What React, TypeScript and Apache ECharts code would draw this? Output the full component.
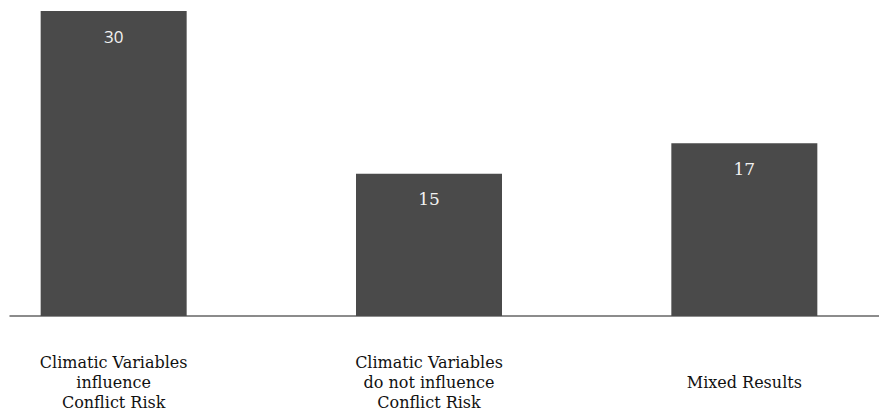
import React, { useEffect, useRef } from "react";
import * as echarts from "echarts";

const categories = [
  "Climatic Variables\ninfluence\nConflict Risk",
  "Climatic Variables\ndo not influence\nConflict Risk",
  "Mixed Results",
];
// bar heights as drawn in the picture
const barValues = [30, 14, 17];
// numbers printed on the bars
const barLabels = ["30", "15", "17"];
const labelFonts = ["Open Sans", "DejaVu Serif", "DejaVu Serif"];

export default function App() {
  const ref = useRef<HTMLDivElement>(null);
  useEffect(() => {
    if (!ref.current) return;
    const chart = echarts.init(ref.current, null, { renderer: "svg" });
    chart.setOption({
      animation: false,
      textStyle: { fontFamily: "DejaVu Serif" },
      grid: [
        { left: 0, right: 0, top: 11, bottom: 100 },
        { left: 54, right: 23, top: 11, bottom: 100 },
      ],
      xAxis: [
        {
          type: "category",
          gridIndex: 0,
          data: categories,
          axisLine: { show: false },
          axisTick: { show: false },
          axisLabel: {
            interval: 0,
            margin: 66,
            verticalAlign: "middle",
            fontFamily: "DejaVu Serif",
            fontSize: 16,
            lineHeight: 20,
            color: "#111",
          },
        },
        {
          type: "category",
          gridIndex: 1,
          data: [""],
          axisLine: { show: true, lineStyle: { color: "#666", width: 1.5 } },
          axisTick: { show: false },
          axisLabel: { show: false },
        },
      ],
      yAxis: [
        { type: "value", gridIndex: 0, min: 0, max: 30, show: false },
        { type: "value", gridIndex: 1, min: 0, max: 30, show: false },
      ],
      series: [
        {
          type: "bar",
          xAxisIndex: 0,
          yAxisIndex: 0,
          barWidth: 146,
          itemStyle: { color: "#4a4a4a" },
          data: barValues.map((v, i) => ({
            value: v,
            label: {
              show: true,
              position: "insideTop",
              distance: 17,
              formatter: barLabels[i],
              color: "#f2f2f2",
              fontSize: 17,
              fontFamily: labelFonts[i],
            },
          })),
        },
      ],
    });
    return () => chart.dispose();
  }, []);
  return (
    <div
      style={{ position: "absolute", left: 0, top: 0, width: 879, height: 416, overflow: "hidden" }}
    >
      <div
        ref={ref}
        style={{ position: "absolute", left: -44, top: 0, width: 946, height: 416 }}
      />
    </div>
  );
}
